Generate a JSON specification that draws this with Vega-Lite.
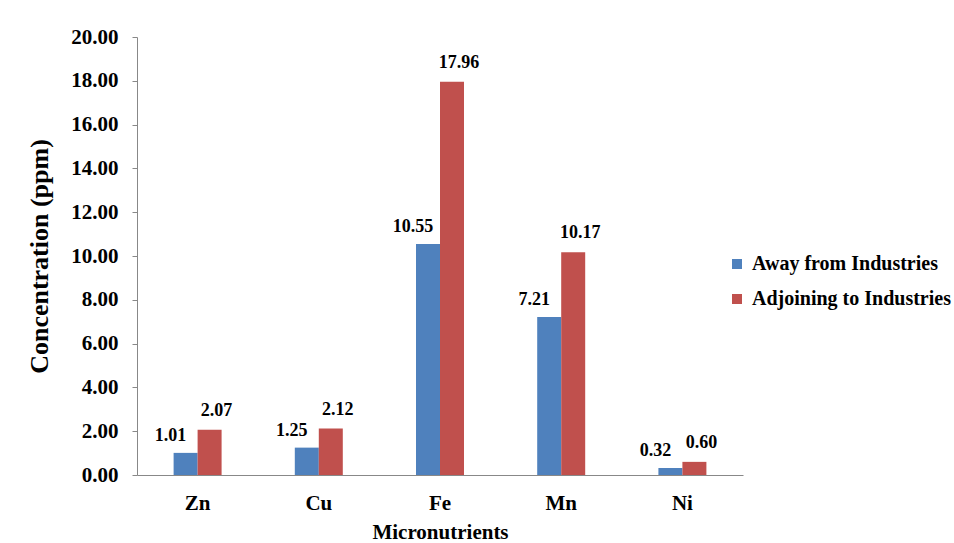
{
  "$schema": "https://vega.github.io/schema/vega-lite/v6.json",
  "autosize": {"type": "none"},
  "width": 606,
  "height": 438,
  "padding": {"left": 137, "top": 37, "right": 211, "bottom": 68},
  "background": "white",
  "config": {
    "view": {"stroke": null},
    "font": "serif",
    "axis": {
      "labelFont": "serif", "titleFont": "serif",
      "labelFontWeight": "bold", "titleFontWeight": "bold",
      "labelColor": "black", "titleColor": "black",
      "domainColor": "#888888", "tickColor": "#888888", "grid": false
    },
    "legend": {"labelFont": "serif", "labelFontWeight": "bold", "labelColor": "black", "labelLimit": 500}
  },
  "data": {
    "values": [
      {"nutrient": "Zn", "site": "Away from Industries", "value": 1.01},
      {"nutrient": "Zn", "site": "Adjoining to Industries", "value": 2.07},
      {"nutrient": "Cu", "site": "Away from Industries", "value": 1.25},
      {"nutrient": "Cu", "site": "Adjoining to Industries", "value": 2.12},
      {"nutrient": "Fe", "site": "Away from Industries", "value": 10.55},
      {"nutrient": "Fe", "site": "Adjoining to Industries", "value": 17.96},
      {"nutrient": "Mn", "site": "Away from Industries", "value": 7.21},
      {"nutrient": "Mn", "site": "Adjoining to Industries", "value": 10.17},
      {"nutrient": "Ni", "site": "Away from Industries", "value": 0.32},
      {"nutrient": "Ni", "site": "Adjoining to Industries", "value": 0.6}
    ]
  },
  "encoding": {
    "x": {
      "field": "nutrient", "type": "nominal", "sort": ["Zn", "Cu", "Fe", "Mn", "Ni"],
      "scale": {"paddingInner": 0.604, "paddingOuter": 0.302},
      "axis": {"title": "Micronutrients", "labelAngle": 0, "labelFontSize": 21, "titleFontSize": 21, "ticks": false, "labelPadding": 17, "titlePadding": 8}
    },
    "xOffset": {
      "field": "site", "type": "nominal", "sort": ["Away from Industries", "Adjoining to Industries"],
      "scale": {"paddingInner": 0, "paddingOuter": 0}
    },
    "y": {
      "field": "value", "type": "quantitative",
      "scale": {"domain": [0, 20], "nice": false},
      "axis": {"title": "Concentration (ppm)", "format": ".2f", "values": [0, 2, 4, 6, 8, 10, 12, 14, 16, 18, 20], "labelFontSize": 21, "titleFontSize": 26, "tickSize": 5, "labelPadding": 14, "titlePadding": 18}
    }
  },
  "layer": [
    {
      "mark": {"type": "bar"},
      "encoding": {
        "color": {
          "field": "site", "type": "nominal", "sort": ["Away from Industries", "Adjoining to Industries"],
          "scale": {"domain": ["Away from Industries", "Adjoining to Industries"], "range": ["#4F81BD", "#C0504D"]},
          "legend": {"title": null, "orient": "none", "legendX": 590, "legendY": 217, "symbolType": "square", "symbolSize": 100, "symbolStrokeWidth": 0, "labelFontSize": 20, "rowPadding": 15, "symbolOffset": 0, "labelOffset": 5}
        }
      }
    },
    {
      "transform": [{"filter": "datum.site === 'Away from Industries'"}],
      "mark": {"type": "text", "baseline": "bottom", "dy": -8, "dx": -15, "fontWeight": "bold", "fontSize": 18, "font": "serif", "color": "black"},
      "encoding": {"text": {"field": "value", "type": "quantitative", "format": ".2f"}}
    },
    {
      "transform": [{"filter": "datum.site === 'Adjoining to Industries'"}],
      "mark": {"type": "text", "baseline": "bottom", "dy": -10, "dx": 7, "fontWeight": "bold", "fontSize": 18, "font": "serif", "color": "black"},
      "encoding": {"text": {"field": "value", "type": "quantitative", "format": ".2f"}}
    }
  ]
}
